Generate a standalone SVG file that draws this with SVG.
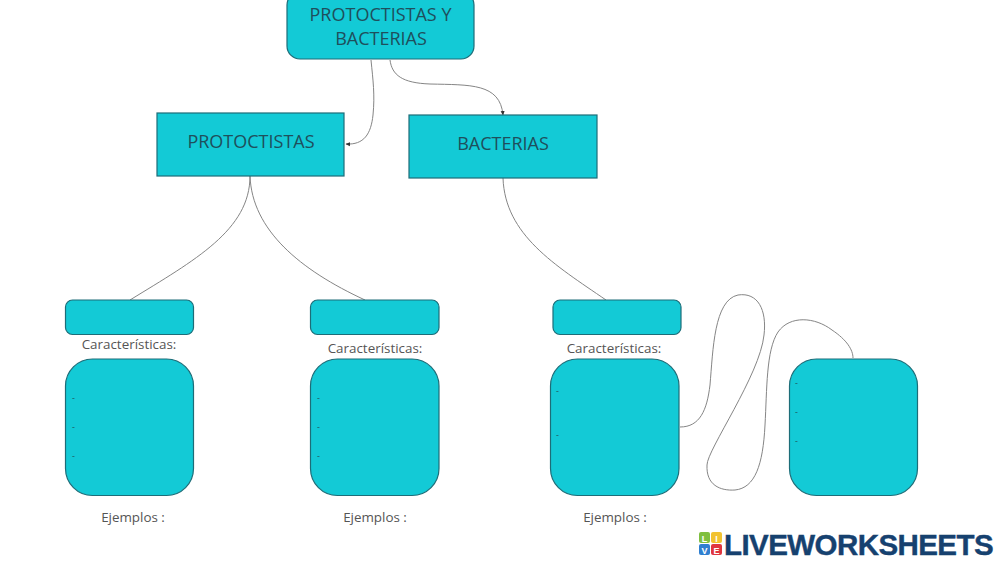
<svg xmlns="http://www.w3.org/2000/svg" width="1000" height="564" viewBox="0 0 1000 564">
<style>
.n{fill:#13cad6;stroke:#1d6d78;stroke-width:1.2}
.c{fill:none;stroke:#858585;stroke-width:1}
.t{font-family:"Open Sans",sans-serif;fill:#1f4f5c;text-anchor:middle}
.h{font-size:18px}
.l{font-family:"Open Sans",sans-serif;font-size:13.4px;fill:#555;text-anchor:middle}
.d{font-family:"Open Sans",sans-serif;font-size:9px;fill:#1f5560}
.k{font-family:"Liberation Sans",sans-serif;font-size:9px;font-weight:bold;fill:#fff;text-anchor:middle}
</style>
<defs><marker id="a" markerWidth="5" markerHeight="5" refX="4" refY="2.500" orient="auto" markerUnits="userSpaceOnUse"><path d="M0 0.500L4.500 2.500L0 4.500z" fill="#333"/></marker></defs>
<rect width="1000" height="564" fill="#fff"/>
<g id="connectors">
<path class="c" marker-end="url(#a)" d="M371 60C373 80 375 95 373 115C371 134 364 145 346 144"/>
<path class="c" marker-end="url(#a)" d="M390 60C392 75 402 83 430 84C470 85 500 83 503 115"/>
<path class="c" d="M250 176C250 230 195 260 130 300"/>
<path class="c" d="M250 176C252 230 300 270 365 300"/>
<path class="c" d="M503 178C505 235 555 265 606 300"/>
<path class="c" d="M680 427C700 427 707 410 710 385C713 350 714 300 738 295C758 292 767 310 764 335C760 375 707 450 707 465C706 485 720 491 735 490C755 488 763 465 765 425C767 390 766 350 778 332C790 315 815 317 832 330C847 340 853 350 853 358"/>
</g>
<g id="root"><rect class="n" x="287" y="-8" width="187" height="67" rx="13"/>
<text class="t h" x="380.500" y="21">PROTOCTISTAS Y</text><text class="t h" x="381" y="45">BACTERIAS</text></g>
<g id="protoctistas"><rect class="n" x="157" y="113" width="187" height="63"/><text class="t h" x="251" y="148">PROTOCTISTAS</text></g>
<g id="bacterias"><rect class="n" x="409" y="115" width="188" height="63"/><text class="t h" x="503" y="150">BACTERIAS</text></g>
<g id="title1"><rect class="n" x="65.500" y="300" width="128" height="34.500" rx="7"/></g>
<g id="title2"><rect class="n" x="310.500" y="300" width="128.500" height="34.500" rx="7"/></g>
<g id="title3"><rect class="n" x="553" y="300" width="128" height="34.500" rx="7"/></g>
<g id="label1"><text class="l" x="129" y="349">Características:</text></g>
<g id="label2"><text class="l" x="375" y="353">Características:</text></g>
<g id="label3"><text class="l" x="614" y="353">Características:</text></g>
<g id="box1"><rect class="n" x="65.500" y="359" width="128" height="136.500" rx="27"/>
<text class="d" x="72" y="400.500">-</text><text class="d" x="72" y="429.500">-</text><text class="d" x="72" y="458.500">-</text></g>
<g id="box2"><rect class="n" x="310.500" y="359" width="128.500" height="136.500" rx="27"/>
<text class="d" x="317" y="400.500">-</text><text class="d" x="317" y="429.500">-</text><text class="d" x="317" y="458.500">-</text></g>
<g id="box3"><rect class="n" x="550.500" y="359" width="128.500" height="136.500" rx="27"/>
<text class="d" x="556" y="393.500">-</text><text class="d" x="556" y="437.500">-</text></g>
<g id="box4"><rect class="n" x="789.500" y="359" width="128" height="136.500" rx="27"/>
<text class="d" x="795" y="385.500">-</text><text class="d" x="795" y="414.500">-</text><text class="d" x="795" y="443.500">-</text></g>
<g id="ejemplos1"><text class="l" x="133" y="522">Ejemplos :</text></g>
<g id="ejemplos2"><text class="l" x="375" y="522">Ejemplos :</text></g>
<g id="ejemplos3"><text class="l" x="615" y="522">Ejemplos :</text></g>
<g id="logo">
<rect x="699" y="532" width="11" height="11" rx="2" fill="#7fbf3f"/><rect x="711" y="532" width="11" height="11" rx="2" fill="#f2c230"/>
<rect x="699" y="544" width="11" height="11" rx="2" fill="#2f7fd0"/><rect x="711" y="544" width="11" height="11" rx="2" fill="#e0363f"/>
<text class="k" x="704.500" y="541.500">L</text><text class="k" x="716.500" y="541.500">I</text><text class="k" x="704.500" y="553.500">V</text><text class="k" x="716.500" y="553.500">E</text>
<text x="724" y="555" font-family="'Liberation Sans',sans-serif" font-weight="bold" font-size="29.500" letter-spacing="-0.570" fill="#16416f" stroke="#16416f" stroke-width="0.400">LIVEWORKSHEETS</text>
</g>
</svg>
